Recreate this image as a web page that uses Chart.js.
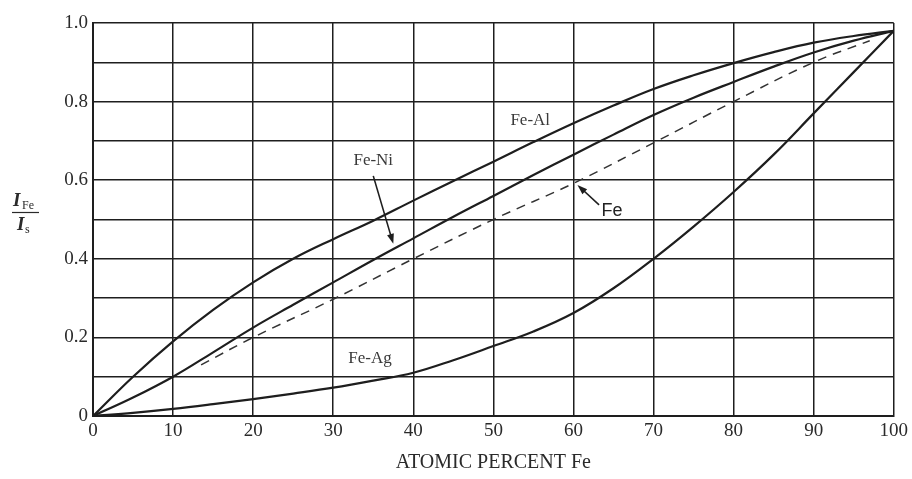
<!DOCTYPE html>
<html lang="en">
<head>
  <meta charset="UTF-8">
  <title>Fe alloys intensity ratio</title>
  <script src="https://cdn.jsdelivr.net/npm/chart.js"></script>
  <style>
    body { margin: 0; padding: 0; background: #fff; }
    .wrap { position: relative; width: 912px; height: 479px; }
  </style>
</head>
<body>
  <div class="wrap"><canvas id="chart"></canvas></div>
  <script>
    // values
    const pctFe = [0, 5, 10, 15, 20, 25, 30, 35, 40, 45, 50, 55, 60, 65, 70, 75, 80, 85, 90, 95, 100];
    const feAl = [0, 0.10, 0.19, 0.27, 0.34, 0.40, 0.45, 0.497, 0.548, 0.598, 0.647, 0.697, 0.745, 0.79, 0.832, 0.867, 0.898, 0.926, 0.95, 0.967, 0.98];
    const feNi = [0, 0.047, 0.10, 0.162, 0.225, 0.283, 0.34, 0.397, 0.452, 0.507, 0.56, 0.613, 0.665, 0.716, 0.766, 0.81, 0.85, 0.889, 0.925, 0.955, 0.98];
    const feAg = [0, 0.008, 0.018, 0.03, 0.043, 0.057, 0.072, 0.09, 0.11, 0.142, 0.178, 0.215, 0.262, 0.325, 0.40, 0.482, 0.57, 0.665, 0.77, 0.875, 0.98];
    const pureFeX = [13.5, 20, 30, 40, 50, 60, 70, 80, 90, 97];
    const pureFe = [0.13, 0.20, 0.297, 0.40, 0.50, 0.592, 0.695, 0.80, 0.90, 0.955];

    const yTickValues = [0, 0.2, 0.4, 0.6, 0.8, 1.0];
    const yTickLabels = ['0', '0.2', '0.4', '0.6', '0.8', '1.0'];

    const ink = '#1e1e1e';
    const serif = '"Liberation Serif", "DejaVu Serif", serif';

    function pts(xs, ys) {
      return xs.map((x, i) => ({ x: x, y: ys[i] }));
    }

    // curve labels and arrows, in data units
    const labels = [
      { text: 'Fe-Al', x: 54.6, y: 0.752, font: '17px ' + serif, color: '#3a3a3a' },
      { text: 'Fe-Ni', x: 35.0, y: 0.649, font: '17px ' + serif, color: '#3a3a3a' },
      { text: 'Fe-Ag', x: 34.6, y: 0.146, font: '17px ' + serif, color: '#3a3a3a' },
      { text: 'Fe', x: 64.8, y: 0.522, font: '18px "Liberation Sans", Arial, sans-serif', color: '#222' }
    ];
    const arrows = [
      { from: [35.0, 0.611], to: [37.5, 0.438] },
      { from: [63.2, 0.537], to: [60.5, 0.588] }
    ];

    const notes = {
      id: 'notes',
      afterDatasetsDraw(chart) {
        const ctx = chart.ctx;
        const sx = chart.scales.x, sy = chart.scales.y;
        ctx.save();
        ctx.textAlign = 'center';
        ctx.textBaseline = 'middle';
        labels.forEach(l => {
          ctx.font = l.font;
          ctx.fillStyle = l.color;
          ctx.fillText(l.text, sx.getPixelForValue(l.x), sy.getPixelForValue(l.y));
        });
        ctx.strokeStyle = ink;
        ctx.fillStyle = ink;
        ctx.lineWidth = 1.6;
        arrows.forEach(a => {
          const x1 = sx.getPixelForValue(a.from[0]), y1 = sy.getPixelForValue(a.from[1]);
          const x2 = sx.getPixelForValue(a.to[0]), y2 = sy.getPixelForValue(a.to[1]);
          const ang = Math.atan2(y2 - y1, x2 - x1);
          ctx.beginPath();
          ctx.moveTo(x1, y1);
          ctx.lineTo(x2 - 6 * Math.cos(ang), y2 - 6 * Math.sin(ang));
          ctx.stroke();
          ctx.beginPath();
          ctx.moveTo(x2, y2);
          ctx.lineTo(x2 - 10 * Math.cos(ang) + 3.5 * Math.sin(ang), y2 - 10 * Math.sin(ang) - 3.5 * Math.cos(ang));
          ctx.lineTo(x2 - 10 * Math.cos(ang) - 3.5 * Math.sin(ang), y2 - 10 * Math.sin(ang) + 3.5 * Math.cos(ang));
          ctx.closePath();
          ctx.fill();
        });

        // y axis title: I_Fe / I_s
        ctx.fillStyle = '#2a2a2a';
        ctx.textAlign = 'left';
        ctx.textBaseline = 'alphabetic';
        ctx.font = 'italic bold 19px ' + serif;
        ctx.fillText('I', 13, 206);
        ctx.font = '12px ' + serif;
        ctx.fillText('Fe', 22, 209);
        ctx.beginPath();
        ctx.lineWidth = 1.2;
        ctx.strokeStyle = '#2a2a2a';
        ctx.moveTo(12, 212.5);
        ctx.lineTo(39, 212.5);
        ctx.stroke();
        ctx.font = 'italic bold 19px ' + serif;
        ctx.fillText('I', 17, 230);
        ctx.font = '12px ' + serif;
        ctx.fillText('s', 25, 233);
        ctx.restore();
      }
    };

    const curve = { borderColor: ink, borderWidth: 2.2, pointRadius: 0, fill: false, tension: 0.4 };

    new Chart(document.getElementById('chart'), {
      type: 'line',
      data: {
        datasets: [
          { ...curve, label: 'Fe-Al', data: pts(pctFe, feAl) },
          { ...curve, label: 'Fe-Ni', data: pts(pctFe, feNi) },
          { ...curve, label: 'Fe', data: pts(pureFeX, pureFe), borderColor: '#333', borderWidth: 1.5, borderDash: [9, 7] },
          { ...curve, label: 'Fe-Ag', data: pts(pctFe, feAg) }
        ]
      },
      options: {
        responsive: true,
        maintainAspectRatio: false,
        animation: false,
        layout: { padding: { left: 0, right: 14, top: 23, bottom: 0 } },
        plugins: {
          legend: { display: false },
          tooltip: { enabled: false }
        },
        scales: {
          x: {
            type: 'linear',
            min: 0,
            max: 100,
            afterFit: s => { s.height = 63; },
            ticks: {
              stepSize: 10,
              padding: 4,
              color: '#2a2a2a',
              font: { family: serif, size: 19 }
            },
            grid: { color: ink, lineWidth: 1.5, drawTicks: false },
            border: { color: ink, width: 2 },
            title: {
              display: true,
              text: 'ATOMIC PERCENT Fe',
              color: '#2a2a2a',
              font: { family: serif, size: 20 },
              padding: { top: 0, bottom: 4 }
            }
          },
          y: {
            min: 0,
            max: 1,
            afterFit: s => { s.width = 93; },
            ticks: {
              stepSize: 0.1,
              padding: 5,
              color: '#2a2a2a',
              font: { family: serif, size: 19 },
              callback: v => {
                const i = yTickValues.findIndex(t => Math.abs(t - v) < 1e-6);
                return i >= 0 ? yTickLabels[i] : '';
              }
            },
            grid: { color: ink, lineWidth: 1.5, drawTicks: false },
            border: { color: ink, width: 2 }
          }
        }
      },
      plugins: [notes]
    });
  </script>
</body>
</html>
